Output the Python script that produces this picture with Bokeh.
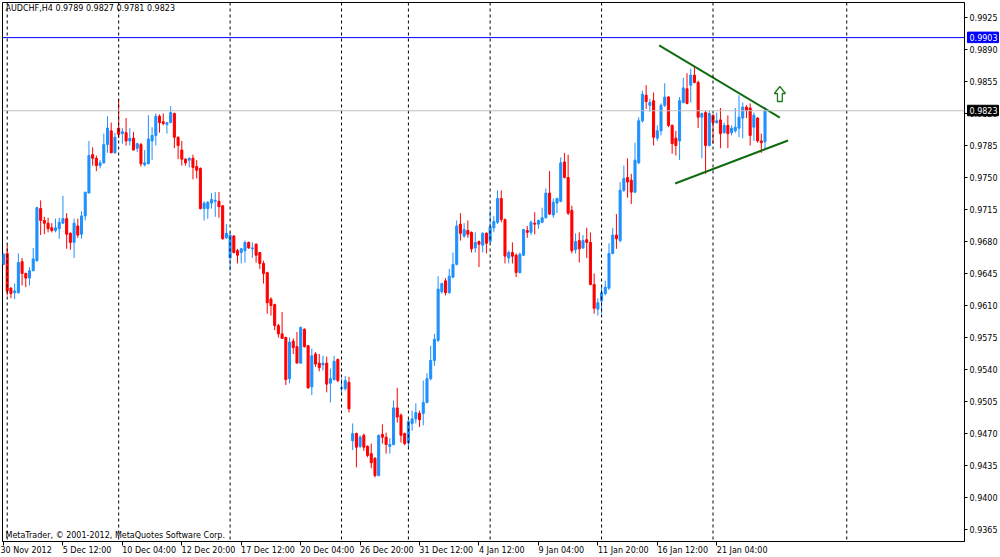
from bokeh.plotting import figure
from bokeh.layouts import row
from bokeh.models import Range1d, FixedTicker, Span, Label, ColumnDataSource, PrintfTickFormatter
from bokeh.core.properties import value
from bokeh.embed import file_html
from bokeh.resources import INLINE

# ---- AUDCHF H4 candles (bar index 0 = 30 Nov 2012 20:00) ----
opens = [0.9655,0.9667,0.9629,0.9624,0.9624,0.9658,0.9645,0.9640,0.9648,0.9659,
         0.9716,0.9703,0.9700,0.9695,0.9692,0.9694,0.9700,0.9705,0.9689,0.9679,
         0.9697,0.9688,0.9708,0.9733,0.9775,0.9771,0.9763,0.9766,0.9786,0.9801,
         0.9777,0.9804,0.9798,0.9799,0.9790,0.9793,0.9782,0.9786,0.9764,0.9765,
         0.9790,0.9796,0.9817,0.9811,0.9808,0.9810,0.9820,0.9794,0.9780,0.9770,
         0.9769,0.9771,0.9762,0.9760,0.9716,0.9716,0.9722,0.9724,0.9724,0.9719,
         0.9684,0.9662,0.9686,0.9670,0.9668,0.9670,0.9679,0.9672,0.9677,0.9668,
         0.9656,0.9646,0.9617,0.9611,0.9588,0.9579,0.9575,0.9530,0.9571,0.9565,
         0.9547,0.9584,0.9566,0.9521,0.9557,0.9547,0.9545,0.9547,0.9525,0.9529,
         0.9551,0.9519,0.9519,0.9526,0.9462,0.9470,0.9456,0.9468,0.9456,0.9448,
         0.9443,0.9424,0.9469,0.9466,0.9456,0.9458,0.9498,0.9490,0.9470,0.9460,
         0.9481,0.9486,0.9492,0.9492,0.9504,0.9530,0.9550,0.9572,0.9625,0.9637,
         0.9624,0.9641,0.9655,0.9699,0.9686,0.9692,0.9690,0.9673,0.9680,0.9676,
         0.9689,0.9680,0.9695,0.9701,0.9727,0.9704,0.9662,0.9668,0.9665,0.9646,
         0.9665,0.9692,0.9690,0.9700,0.9699,0.9701,0.9706,0.9733,0.9709,0.9722,
         0.9724,0.9767,0.9750,0.9714,0.9671,0.9681,0.9673,0.9682,0.9679,0.9633,
         0.9606,0.9615,0.9623,0.9629,0.9667,0.9687,0.9681,0.9736,0.9750,0.9747,
         0.9734,0.9766,0.9812,0.9840,0.9829,0.9834,0.9793,0.9801,0.9829,0.9838,
         0.9807,0.9793,0.9790,0.9832,0.9847,0.9851,0.9862,0.9854,0.9816,0.9821,
         0.9785,0.9818,0.9810,0.9813,0.9799,0.9807,0.9799,0.9801,0.9804,0.9815,
         0.9827,0.9826,0.9805,0.9815,0.9790,0.9789]
highs = [0.9667,0.9676,0.9630,0.9634,0.9667,0.9662,0.9646,0.9652,0.9673,0.9718,
         0.9725,0.9707,0.9706,0.9700,0.9705,0.9706,0.9730,0.9711,0.9690,0.9705,
         0.9705,0.9713,0.9734,0.9790,0.9783,0.9774,0.9769,0.9798,0.9817,0.9810,
         0.9799,0.9836,0.9804,0.9815,0.9804,0.9800,0.9788,0.9788,0.9780,0.9818,
         0.9805,0.9820,0.9819,0.9820,0.9810,0.9828,0.9821,0.9795,0.9790,0.9771,
         0.9772,0.9775,0.9769,0.9761,0.9724,0.9724,0.9733,0.9734,0.9734,0.9720,
         0.9699,0.9690,0.9687,0.9672,0.9673,0.9681,0.9680,0.9679,0.9678,0.9668,
         0.9659,0.9647,0.9619,0.9612,0.9590,0.9603,0.9576,0.9575,0.9574,0.9581,
         0.9587,0.9585,0.9567,0.9563,0.9559,0.9557,0.9555,0.9554,0.9541,0.9555,
         0.9552,0.9530,0.9533,0.9532,0.9481,0.9471,0.9468,0.9470,0.9457,0.9459,
         0.9444,0.9469,0.9480,0.9471,0.9465,0.9506,0.9520,0.9492,0.9471,0.9486,
         0.9495,0.9503,0.9495,0.9528,0.9536,0.9566,0.9579,0.9642,0.9635,0.9640,
         0.9650,0.9668,0.9703,0.9711,0.9700,0.9703,0.9691,0.9690,0.9681,0.9690,
         0.9690,0.9714,0.9708,0.9736,0.9736,0.9705,0.9670,0.9679,0.9667,0.9668,
         0.9694,0.9697,0.9703,0.9712,0.9704,0.9717,0.9738,0.9757,0.9727,0.9728,
         0.9772,0.9777,0.9775,0.9719,0.9689,0.9690,0.9687,0.9695,0.9690,0.9645,
         0.9618,0.9632,0.9637,0.9678,0.9695,0.9710,0.9745,0.9763,0.9771,0.9754,
         0.9788,0.9816,0.9845,0.9851,0.9836,0.9843,0.9807,0.9831,0.9853,0.9839,
         0.9808,0.9801,0.9838,0.9859,0.9864,0.9869,0.9872,0.9856,0.9821,0.9823,
         0.9823,0.9819,0.9821,0.9826,0.9810,0.9818,0.9807,0.9826,0.9840,0.9832,
         0.9829,0.9831,0.9821,0.9816,0.9798,0.9827]
lows = [0.9654,0.9621,0.9618,0.9617,0.9623,0.9632,0.9630,0.9632,0.9648,0.9658,
        0.9687,0.9688,0.9690,0.9690,0.9690,0.9683,0.9700,0.9672,0.9671,0.9662,
        0.9684,0.9683,0.9703,0.9733,0.9763,0.9757,0.9760,0.9765,0.9777,0.9777,
        0.9776,0.9793,0.9787,0.9785,0.9785,0.9780,0.9778,0.9762,0.9762,0.9765,
        0.9769,0.9785,0.9799,0.9807,0.9798,0.9810,0.9782,0.9770,0.9763,0.9763,
        0.9761,0.9748,0.9749,0.9715,0.9703,0.9705,0.9716,0.9707,0.9706,0.9682,
        0.9683,0.9648,0.9667,0.9656,0.9656,0.9657,0.9672,0.9662,0.9657,0.9650,
        0.9634,0.9601,0.9599,0.9583,0.9575,0.9574,0.9523,0.9525,0.9557,0.9547,
        0.9546,0.9564,0.9519,0.9512,0.9543,0.9538,0.9539,0.9515,0.9504,0.9528,
        0.9526,0.9512,0.9517,0.9493,0.9452,0.9433,0.9454,0.9451,0.9444,0.9432,
        0.9422,0.9423,0.9459,0.9448,0.9448,0.9457,0.9482,0.9460,0.9457,0.9455,
        0.9473,0.9481,0.9477,0.9479,0.9503,0.9528,0.9544,0.9570,0.9623,0.9621,
        0.9623,0.9640,0.9654,0.9681,0.9684,0.9684,0.9668,0.9668,0.9652,0.9668,
        0.9667,0.9678,0.9690,0.9699,0.9701,0.9656,0.9656,0.9656,0.9641,0.9645,
        0.9664,0.9684,0.9687,0.9688,0.9694,0.9700,0.9705,0.9709,0.9706,0.9711,
        0.9723,0.9749,0.9709,0.9667,0.9667,0.9657,0.9672,0.9662,0.9632,0.9601,
        0.9599,0.9601,0.9621,0.9627,0.9666,0.9672,0.9679,0.9734,0.9728,0.9721,
        0.9733,0.9765,0.9810,0.9825,0.9822,0.9785,0.9790,0.9796,0.9827,0.9805,
        0.9776,0.9774,0.9769,0.9831,0.9830,0.9832,0.9853,0.9804,0.9771,0.9754,
        0.9784,0.9787,0.9809,0.9782,0.9798,0.9782,0.9796,0.9799,0.9794,0.9793,
        0.9815,0.9785,0.9790,0.9788,0.9777,0.9781]
closes = [0.9666,0.9626,0.9623,0.9626,0.9657,0.9645,0.9640,0.9648,0.9661,0.9717,
          0.9703,0.9700,0.9694,0.9692,0.9695,0.9701,0.9705,0.9688,0.9679,0.9700,
          0.9687,0.9708,0.9734,0.9774,0.9771,0.9763,0.9766,0.9786,0.9804,0.9777,
          0.9794,0.9797,0.9800,0.9790,0.9793,0.9780,0.9787,0.9765,0.9766,0.9792,
          0.9796,0.9817,0.9810,0.9809,0.9810,0.9821,0.9794,0.9785,0.9770,0.9766,
          0.9771,0.9761,0.9758,0.9716,0.9722,0.9723,0.9726,0.9725,0.9718,0.9683,
          0.9689,0.9687,0.9668,0.9665,0.9672,0.9679,0.9673,0.9673,0.9665,0.9656,
          0.9645,0.9613,0.9610,0.9588,0.9579,0.9574,0.9529,0.9570,0.9564,0.9547,
          0.9586,0.9565,0.9520,0.9555,0.9546,0.9542,0.9547,0.9524,0.9530,0.9549,
          0.9528,0.9520,0.9528,0.9497,0.9470,0.9455,0.9466,0.9455,0.9446,0.9438,
          0.9424,0.9468,0.9466,0.9458,0.9458,0.9498,0.9488,0.9468,0.9459,0.9483,
          0.9486,0.9493,0.9485,0.9504,0.9530,0.9550,0.9573,0.9628,0.9634,0.9624,
          0.9642,0.9655,0.9697,0.9689,0.9693,0.9688,0.9672,0.9679,0.9677,0.9689,
          0.9678,0.9696,0.9702,0.9727,0.9704,0.9664,0.9668,0.9664,0.9646,0.9666,
          0.9693,0.9690,0.9701,0.9699,0.9703,0.9706,0.9733,0.9710,0.9723,0.9727,
          0.9766,0.9750,0.9711,0.9670,0.9680,0.9672,0.9681,0.9679,0.9633,0.9607,
          0.9613,0.9624,0.9630,0.9667,0.9687,0.9683,0.9736,0.9749,0.9745,0.9734,
          0.9769,0.9812,0.9841,0.9833,0.9832,0.9794,0.9801,0.9829,0.9838,0.9807,
          0.9787,0.9785,0.9834,0.9848,0.9831,0.9862,0.9854,0.9816,0.9820,0.9785,
          0.9820,0.9810,0.9812,0.9798,0.9807,0.9798,0.9804,0.9805,0.9816,0.9827,
          0.9823,0.9796,0.9818,0.9790,0.9788,0.9823]

# weekly period separators (bar index of first bar of each week)
week_starts = [1, 31, 61, 91, 109, 131, 161, 191, 227]
# time axis labels
time_tick_bars = [0, 16, 32, 48, 64, 80, 96, 112, 128, 144, 160, 176, 192]
time_tick_labels = ["30 Nov 2012", "5 Dec 12:00", "10 Dec 04:00", "12 Dec 20:00",
                    "17 Dec 12:00", "20 Dec 04:00", "26 Dec 20:00", "31 Dec 12:00",
                    "4 Jan 12:00", "9 Jan 04:00", "11 Jan 20:00", "16 Jan 12:00",
                    "21 Jan 04:00"]
price_ticks = [0.9365, 0.9400, 0.9435, 0.9470, 0.9505, 0.9540, 0.9575, 0.9610,
               0.9645, 0.9680, 0.9715, 0.9750, 0.9785, 0.9820, 0.9855, 0.9890, 0.9925]
level_price = 0.9903
bid_price = 0.9823
marker_prices = [level_price, bid_price]
marker_colors = ["#0000FF", "#000000"]
symbol_text = "AUDCHF,H4  0.9789 0.9827 0.9781 0.9823"
copyright_text = "MetaTrader, \u00a9 2001-2012, MetaQuotes Software Corp."
# triangle trend lines (bar index, price)
upper_trend_x = [176.5, 209.0]
upper_trend_y = [0.98944, 0.98156]
lower_trend_x = [180.8, 211.2]
lower_trend_y = [0.97434, 0.97905]
# up-arrow object
arrow_bar = 209.0
arrow_top = 0.98495
arrow_base = 0.98419
arrow_bottom = 0.98331

W, H = 1000, 557
BL, BT, BR, BB = 2, 2, 35, 16          # borders around the chart frame
X0, X1 = -0.27, 258.7
Y0, Y1 = 0.93519, 0.99414
FONT = "DejaVu Sans"
FS = "8px"
PX = (Y1 - Y0) / (H - BT - BB)          # price per screen pixel

# approximate DejaVu Sans advance widths (em) to left-align the time labels at their ticks
_W = {" ": 0.318, ":": 0.337, "D": 0.770, "e": 0.615, "c": 0.550, "N": 0.748,
      "o": 0.612, "v": 0.592, "J": 0.295, "a": 0.613, "n": 0.634}
def left_aligned(s):
    w = sum(_W.get(ch, 0.636) for ch in s)
    return "\u00a0" * int(round(w / 0.318)) + s

bull = "#1E90FF"
bear = "#FF0000"
n = len(opens)
xs = list(range(n))
colors = [bull if c >= o else bear for o, c in zip(opens, closes)]
src = ColumnDataSource(dict(
    x=xs, o=opens, h=highs, l=lows, c=closes,
    top=[max(o, c) for o, c in zip(opens, closes)],
    bot=[min(o, c) for o, c in zip(opens, closes)],
    color=colors))

p = figure(width=W, height=H, output_backend="svg", toolbar_location=None,
           x_range=Range1d(X0, X1), y_range=Range1d(Y0, Y1),
           y_axis_location="right", min_border_left=BL, min_border_top=BT,
           min_border_right=BR, min_border_bottom=BB)
p.background_fill_color = "white"
p.border_fill_color = "white"
p.outline_line_color = "black"
p.outline_line_width = 1
p.xgrid.visible = False
p.ygrid.visible = False

# axes
p.yaxis.ticker = FixedTicker(ticks=price_ticks)
p.yaxis.formatter = PrintfTickFormatter(format="%.4f")
p.xaxis.ticker = FixedTicker(ticks=time_tick_bars)
overrides = {}
for i, (b, t) in enumerate(zip(time_tick_bars, time_tick_labels)):
    overrides[b] = t if i == 0 else left_aligned(t)
p.xaxis.major_label_overrides = overrides
for ax in (p.xaxis[0], p.yaxis[0]):
    ax.axis_line_color = "black"
    ax.major_tick_line_color = "black"
    ax.minor_tick_line_color = None
    ax.major_tick_in = 0
    ax.major_tick_out = 3
    ax.major_label_text_font = FONT
    ax.major_label_text_font_size = FS
    ax.major_label_text_color = "black"
    ax.major_label_standoff = 2
p.xaxis.major_tick_out = 4
p.xaxis.major_label_standoff = 0

# separators and horizontal levels
for w in week_starts:
    p.add_layout(Span(location=w, dimension="height", line_color="black",
                      line_dash="3 3", line_width=1))
p.add_layout(Span(location=bid_price, dimension="width", line_color="#C0C0C0", line_width=1))
p.add_layout(Span(location=level_price, dimension="width", line_color="#0000FF", line_width=1))

# candles
p.segment(x0="x", y0="h", x1="x", y1="l", source=src, line_color="color", line_width=1)
p.vbar(x="x", width=0.55, top="top", bottom="bot", source=src,
       fill_color="color", line_color="color", line_width=1)

# trend lines
p.line(upper_trend_x, upper_trend_y, line_color="#0F6B0F", line_width=2)
p.line(lower_trend_x, lower_trend_y, line_color="#0F6B0F", line_width=2)

# arrow
hw, sw = 1.5, 0.65
ax_ = [arrow_bar, arrow_bar + hw, arrow_bar + sw, arrow_bar + sw,
       arrow_bar - sw, arrow_bar - sw, arrow_bar - hw]
ay_ = [arrow_top, arrow_base, arrow_base, arrow_bottom, arrow_bottom, arrow_base, arrow_base]
p.patch(ax_, ay_, fill_color="white", line_color="#1E7A1E", line_width=1.3)

# texts
p.add_layout(Label(x=X0, y=Y1, x_offset=3, y_offset=-1, text=symbol_text,
                   text_baseline="top", text_align="left", text_font=FONT,
                   text_font_size=FS, text_color="black"))
p.add_layout(Label(x=X0, y=Y0, x_offset=3, y_offset=2, text=copyright_text,
                   text_baseline="bottom", text_align="left", text_font=FONT,
                   text_font_size=FS, text_color="black"))

# transparent overlay strip over the price scale for the price marker boxes
p2 = figure(width=BR, height=H, output_backend="svg", toolbar_location=None,
            x_range=Range1d(0, BR), y_range=p.y_range,
            x_axis_location=None, y_axis_location=None,
            min_border_left=0, min_border_right=0, min_border_top=BT, min_border_bottom=BB)
p2.background_fill_color = None
p2.border_fill_color = None
p2.outline_line_color = None
p2.grid.visible = False
msrc = ColumnDataSource(dict(
    y=marker_prices, color=marker_colors,
    top=[v + 5.5 * PX for v in marker_prices],
    bottom=[v - 5.0 * PX for v in marker_prices],
    label=["%.4f" % v for v in marker_prices]))
p2.quad(left=2, right=33, top="top", bottom="bottom", source=msrc,
        fill_color="color", line_color="color")
p2.text(x=4, y="y", text="label", source=msrc, text_color="white",
        text_font=value(FONT), text_font_size=FS, text_baseline="middle",
        text_align="left")
p2.margin = (0, 0, 0, -BR)

layout = row(p, p2)
open("out.html", "w").write(file_html(layout, INLINE))
